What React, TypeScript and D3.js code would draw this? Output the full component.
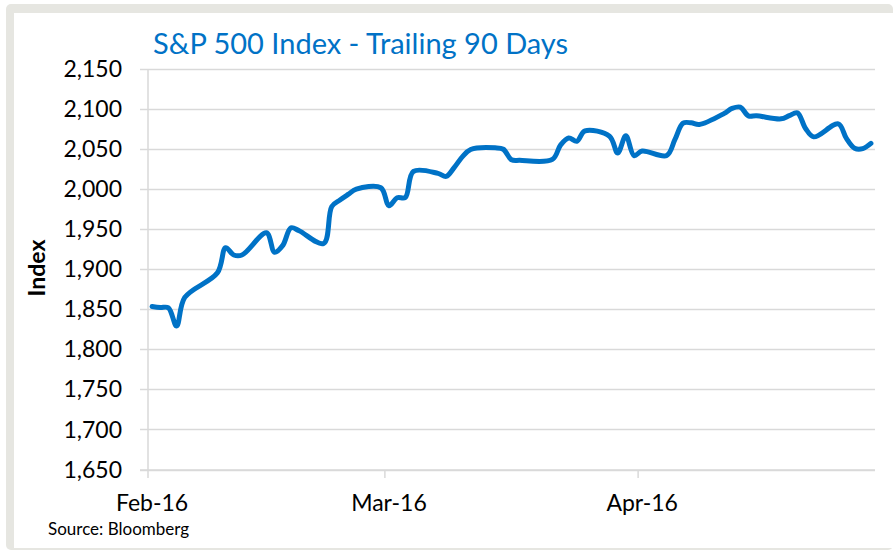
import React from "react";
import * as d3 from "d3";

const dates: string[] = [
  "2016-02-08","2016-02-09","2016-02-10","2016-02-11","2016-02-12",
  "2016-02-16","2016-02-17","2016-02-18","2016-02-19",
  "2016-02-22","2016-02-23","2016-02-24","2016-02-25","2016-02-26",
  "2016-02-29","2016-03-01","2016-03-02","2016-03-03","2016-03-04",
  "2016-03-07","2016-03-08","2016-03-09","2016-03-10","2016-03-11",
  "2016-03-14","2016-03-15","2016-03-16","2016-03-17","2016-03-18",
  "2016-03-21","2016-03-22","2016-03-23","2016-03-24",
  "2016-03-28","2016-03-29","2016-03-30","2016-03-31","2016-04-01",
  "2016-04-04","2016-04-05","2016-04-06","2016-04-07","2016-04-08",
  "2016-04-11","2016-04-12","2016-04-13","2016-04-14","2016-04-15",
  "2016-04-18","2016-04-19","2016-04-20","2016-04-21","2016-04-22",
  "2016-04-25","2016-04-26","2016-04-27","2016-04-28","2016-04-29",
  "2016-05-02","2016-05-03","2016-05-04","2016-05-05","2016-05-06",
];

const values: number[] = [
  1853.44, 1852.21, 1851.86, 1829.08, 1864.78,
  1895.58, 1926.82, 1917.83, 1917.78,
  1945.5, 1921.27, 1929.8, 1951.7, 1948.05,
  1932.23, 1978.35, 1986.45, 1993.4, 1999.99,
  2001.76, 1979.26, 1989.26, 1989.57, 2022.19,
  2019.64, 2015.93, 2027.22, 2040.59, 2049.58,
  2051.6, 2049.8, 2036.71, 2035.94,
  2037.05, 2055.01, 2063.95, 2059.74, 2072.78,
  2066.13, 2045.17, 2066.66, 2041.91, 2047.6,
  2041.99, 2061.72, 2082.42, 2082.78, 2080.73,
  2094.34, 2100.8, 2102.4, 2091.48, 2091.58,
  2087.79, 2091.7, 2095.15, 2075.81, 2065.3,
  2081.43, 2063.37, 2051.12, 2050.63, 2057.14,
];

const yTicks: number[] = [1650, 1700, 1750, 1800, 1850, 1900, 1950, 2000, 2050, 2100, 2150];
const xTickDates: string[] = ["2016-02-08", "2016-03-08", "2016-04-08"];
const axisStart = "2016-02-08";
const axisEnd = "2016-05-07";

const title = "S&P 500 Index - Trailing 90 Days";
const yTitle = "Index";
const source = "Source: Bloomberg";

const FONT = "Lato, 'Open Sans', sans-serif";
const BLUE = "#0072C6";
const GRID = "#D9D9D9";

export default function App() {
  const parse = d3.utcParse("%Y-%m-%d");
  const noon = (d: Date) => d3.utcHour.offset(d, 12);

  const x = d3
    .scaleUtc()
    .domain([parse(axisStart) as Date, parse(axisEnd) as Date])
    .range([148, 875]);
  const y = d3.scaleLinear().domain([1650, 2150]).range([469.5, 69]);

  const data = dates.map((s, i) => ({ d: noon(parse(s) as Date), v: values[i] }));

  const line = d3
    .line<{ d: Date; v: number }>()
    .x((p) => x(p.d))
    .y((p) => y(p.v))
    .curve(d3.curveCatmullRom);

  const fmtY = d3.format(",");
  const fmtX = d3.utcFormat("%b-%y");
  const [x0, x1] = x.range();

  return (
    <svg
      width={893}
      height={550}
      style={{ position: "absolute", left: 0, top: 0 }}
      fontFamily={FONT}
    >
      <rect x={0} y={0} width={893} height={550} fill="#ffffff" />
      <rect x={6} y={4} width={887} height={546} rx={5} fill="#E6E6E1" />
      <rect x={14} y={13} width={879} height={535} fill="#ffffff" />

      <text x={153} y={54} fill={BLUE} fontSize={29}>
        {title}
      </text>

      {yTicks.map((t) => (
        <g key={t}>
          <line
            x1={140}
            x2={x1}
            y1={Math.round(y(t)) + 0.5}
            y2={Math.round(y(t)) + 0.5}
            stroke={GRID}
            strokeWidth={1.3}
          />
          <text
            x={122}
            y={y(t)}
            dy="0.35em"
            textAnchor="end"
            fontSize={23}
            fill="#000"
          >
            {fmtY(t)}
          </text>
        </g>
      ))}

      <line x1={x0} x2={x0} y1={69} y2={470} stroke={GRID} strokeWidth={1.5} />
      <line x1={x0 - 8} x2={x1} y1={470} y2={470} stroke={GRID} strokeWidth={1.5} />

      {xTickDates.map((s) => {
        const d = parse(s) as Date;
        return (
          <g key={s}>
            <line
              x1={x(d)}
              x2={x(d)}
              y1={470}
              y2={478}
              stroke={GRID}
              strokeWidth={1.5}
            />
            <text
              x={x(noon(d))}
              y={511}
              textAnchor="middle"
              fontSize={23}
              fill="#000"
            >
              {fmtX(d)}
            </text>
          </g>
        );
      })}

      <path
        d={line(data) || ""}
        fill="none"
        stroke={BLUE}
        strokeWidth={5}
        strokeLinecap="round"
        strokeLinejoin="round"
      />

      <text
        transform={`translate(45,268) rotate(-90)`}
        textAnchor="middle"
        fontSize={23}
        fontWeight="bold"
        fill="#000"
      >
        {yTitle}
      </text>

      <text x={48} y={535} fontSize={17} fill="#000">
        {source}
      </text>
    </svg>
  );
}
